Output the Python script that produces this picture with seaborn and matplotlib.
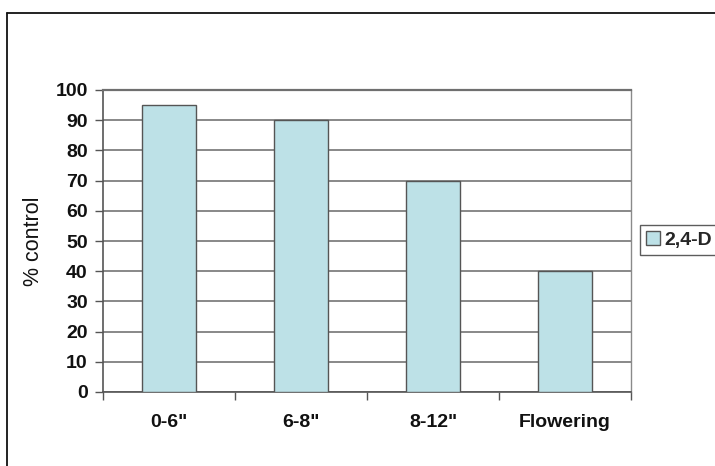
import matplotlib
matplotlib.use("Agg")
import matplotlib.pyplot as plt
from matplotlib.lines import Line2D
import seaborn as sns
import pandas as pd

stages = ['0-6"', '6-8"', '8-12"', 'Flowering']
control = [95, 90, 70, 40]
treatment = ["2,4-D"] * len(stages)
yticks = list(range(0, 101, 10))

df = pd.DataFrame({"stage": stages, "control": control, "treatment": treatment})

sns.set_theme(style="white")
plt.rcParams["font.family"] = ["Liberation Sans", "DejaVu Sans"]

fig = plt.figure(figsize=(7.15, 4.66), dpi=100)
ax = fig.add_axes([103 / 715, 1 - 392 / 466, (631 - 103) / 715, (392 - 90) / 466])

sns.barplot(data=df, x="stage", y="control", hue="treatment", ax=ax,
            palette=["#bde1e7"], edgecolor="#555555", linewidth=1.0,
            width=0.41, saturation=1, zorder=3)

ax.set_ylim(0, 100)
ax.set_xlim(-0.5, len(stages) - 0.5)
ax.set_yticks(yticks)
ax.set_yticklabels([str(v) for v in yticks], fontsize=14, fontweight="bold", color="#111111")
ax.yaxis.grid(True, color="#7f7f7f", linewidth=1.3, zorder=0)
ax.set_axisbelow(True)

# category boundaries carry the tick marks, labels sit at the centres
ax.set_xticks([i - 0.5 for i in range(len(stages) + 1)])
ax.set_xticklabels([])
ax.set_xticks(range(len(stages)), minor=True)
ax.set_xticklabels(stages, minor=True, fontsize=14, fontweight="bold", color="#111111")
ax.tick_params(axis="x", which="major", direction="out", length=6, width=1, color="#555555", bottom=True)
ax.tick_params(axis="x", which="minor", length=0, pad=16)
ax.tick_params(axis="y", direction="out", length=6, width=1, color="#555555", left=True, pad=5)

ax.set_xlabel("")
ax.set_ylabel("% control", fontsize=15.5, fontweight="medium", color="#111111", labelpad=8)

for side in ("left", "bottom"):
    ax.spines[side].set_color("#555555")
    ax.spines[side].set_linewidth(1.2)
ax.spines["right"].set_color("#8a8a8a")
ax.spines["right"].set_linewidth(1.0)
ax.spines["top"].set_color("#6f6f6f")
ax.spines["top"].set_linewidth(1.6)

ax.get_legend().remove()
handles = [plt.Rectangle((0, 0), 1, 1, facecolor="#bde1e7", edgecolor="#555555", linewidth=1.0)]
leg = fig.legend(handles, ["2,4-D"], loc="center left",
                 bbox_to_anchor=(640 / 715, 1 - 240 / 466),
                 frameon=True, fancybox=False, edgecolor="#333333",
                 prop={"size": 14, "weight": "bold"},
                 handlelength=0.75, handleheight=0.75, handletextpad=0.2,
                 borderpad=0.3, borderaxespad=0)
leg.get_frame().set_linewidth(1.0)

# outer frame around the chart area
fig.add_artist(Line2D([7 / 715, 7 / 715], [0, 1 - 13 / 466], transform=fig.transFigure,
                      color="#111111", linewidth=1.3))
fig.add_artist(Line2D([7 / 715, 1], [1 - 13 / 466, 1 - 13 / 466], transform=fig.transFigure,
                      color="#111111", linewidth=1.3))

fig.savefig("out.png", dpi=100)
